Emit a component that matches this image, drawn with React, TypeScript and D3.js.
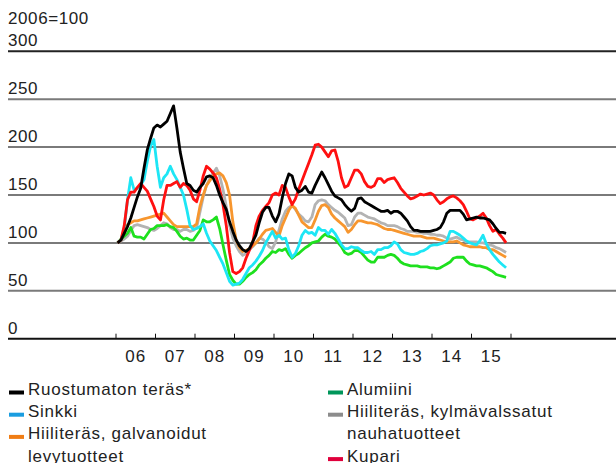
import React from "react";
import * as d3 from "d3";

const W = 616;
const H = 463;

const yTicks = [0, 50, 100, 150, 200, 250, 300];
const yearLabels = ["06", "07", "08", "09", "10", "11", "12", "13", "14", "15"];
const unitLabel = "2006=100";

// Monthly index values, Jan 2006 – Nov 2015
const stainless = [
  100, 103, 110, 117, 126, 137, 148, 157, 178, 197, 209, 220, 223, 221, 224, 227, 235, 243, 220, 195,
  178, 162, 160, 155, 153, 158, 162, 169, 170, 168, 160, 150, 142, 135, 122, 112, 103, 97, 93, 91,
  94, 101, 108, 121, 132, 137, 137, 128, 122, 130, 147, 162, 172, 170, 158, 153, 155, 159, 153, 152,
  160, 167, 174, 168, 161, 154, 149, 147, 145, 140, 136, 133, 136, 146, 147, 143, 141, 139, 137, 135,
  133, 133, 134, 131, 133, 133, 131, 127, 123, 117, 113, 113, 112, 112, 112, 112, 113, 114, 116, 122,
  131, 134, 134, 134, 134, 130, 124, 125, 126, 127, 126, 126, 125, 124, 120, 115, 111, 111, 110,
];
const zinc = [
  100, 103, 115, 145, 168, 155, 157, 160, 166, 185, 201, 208, 180, 158, 168, 172, 180, 172, 166, 158,
  150, 135, 118, 114, 115, 117, 120, 110, 102, 97, 92, 85, 78, 69, 60, 56, 57, 58, 62, 68,
  74, 77, 81, 86, 92, 100, 106, 112, 105, 108, 104, 105, 93, 85, 89, 97, 108, 113, 110, 111,
  108, 116, 113, 113, 109, 114, 110, 104, 98, 94, 94, 96, 95, 95, 92, 90, 90, 91, 88, 93,
  93, 95, 95, 97, 101, 99, 93, 90, 89, 88, 88, 89, 91, 92, 94, 97, 98, 98, 99, 100,
  102, 112, 112, 110, 108, 105, 102, 100, 99, 98, 102, 108, 99, 93, 88, 84, 80, 77, 74,
];
const galvanized = [
  100, 103, 110, 119, 121, 123, 123, 124, 125, 126, 127, 128, 129, 130, 131, 127, 123, 119, 117, 117,
  117, 117, 117, 117, 120, 138, 150, 160, 165, 170, 172, 173, 170, 163, 150, 122, 103, 95, 91, 92,
  94, 97, 100, 104, 109, 113, 114, 115, 111, 107, 118, 126, 134, 139, 136, 129, 122, 119, 116, 116,
  124, 133, 139, 140, 137, 130, 126, 123, 120, 117, 111, 114, 119, 123, 123, 122, 121, 121, 120, 119,
  117, 115, 114, 114, 113, 112, 111, 110, 109, 108, 107, 107, 107, 106, 105, 105, 105, 104, 103, 102,
  101, 101, 101, 102, 100, 98, 97, 96, 96, 96, 96, 95, 95, 93, 93, 91, 89, 87, 85,
];
const aluminium = [
  100, 104, 107, 110, 116, 107, 106, 106, 104, 109, 114, 115, 118, 118, 118, 119, 117, 116, 112, 107,
  104, 105, 103, 103, 108, 113, 124, 122, 122, 124, 127, 115, 98, 82, 67, 61, 57, 57, 60, 64,
  67, 69, 72, 77, 80, 84, 87, 91, 90, 93, 92, 94, 88, 84, 87, 89, 92, 95, 97, 100,
  101, 102, 106, 109, 107, 106, 104, 100, 96, 90, 88, 89, 92, 92, 90, 86, 82, 80, 80, 85,
  85, 85, 87, 88, 87, 84, 80, 78, 77, 76, 76, 76, 75, 75, 75, 74, 74, 73, 74, 76,
  78, 80, 84, 85, 85, 85, 81, 78, 77, 76, 76, 75, 74, 72, 70, 67, 66, 65, 64,
];
const coldRolled = [
  100, 102, 104, 107, 113, 118, 119, 118, 117, 116, 114, 113, 115, 118, 121, 120, 116, 114, 114, 112,
  114, 114, 112, 113, 116, 132, 148, 160, 167, 173, 178, 170, 156, 138, 118, 105, 97, 91, 87, 89,
  93, 96, 100, 105, 104, 101, 96, 94, 101, 113, 125, 133, 137, 139, 135, 130, 127, 123, 122, 127,
  140, 144, 145, 144, 140, 137, 134, 132, 129, 126, 118, 119, 127, 131, 131, 129, 127, 126, 125, 123,
  121, 120, 118, 118, 118, 117, 115, 114, 112, 112, 112, 111, 111, 110, 110, 109, 109, 108, 108, 107,
  105, 104, 105, 106, 104, 103, 101, 101, 101, 101, 100, 100, 99, 98, 97, 95, 94, 92, 90,
];
const copper = [
  100, 103, 118, 145, 153, 153, 158, 162, 158, 154, 146, 138, 128, 124, 145, 160, 160, 162, 164, 158,
  162, 160, 155, 146, 143, 155, 170, 180, 177, 173, 168, 156, 140, 118, 90, 70, 68, 70, 74, 84,
  92, 100, 118, 128, 134, 138, 142, 150, 152, 150, 160, 158, 148, 140, 146, 156, 165, 174, 183, 192,
  202, 203, 200, 195, 190, 196, 197, 185, 168, 158, 160, 168, 176, 176, 172, 164, 159, 158, 160, 167,
  167, 163, 166, 167, 168, 163, 157, 153, 149, 146, 147, 149, 151, 150, 151, 152, 150, 145, 141, 143,
  146, 148, 149, 147, 144, 140, 133, 125, 124, 126, 128, 131, 126, 118, 112, 114, 109, 105, 100,
];

const seriesNames = [
  "Ruostumaton teräs*",
  "Sinkki",
  "Hiiliteräs, galvanoidut levytuotteet",
  "Alumiini",
  "Hiiliteräs, kylmävalssatut nauhatuotteet",
  "Kupari",
];

type S = { name: string; values: number[]; line: string; swatch: string; legend: string[] };
const series: S[] = [
  { name: seriesNames[4], values: coldRolled, line: "#b3b3b3", swatch: "#8c8c8c", legend: ["Hiiliteräs, kylmävalssatut", "nauhatuotteet"] },
  { name: seriesNames[2], values: galvanized, line: "#f7962e", swatch: "#f07d14", legend: ["Hiiliteräs, galvanoidut", "levytuotteet"] },
  { name: seriesNames[3], values: aluminium, line: "#1ee01e", swatch: "#00965a", legend: ["Alumiini"] },
  { name: seriesNames[1], values: zinc, line: "#1de6f5", swatch: "#1a9de0", legend: ["Sinkki"] },
  { name: seriesNames[5], values: copper, line: "#ff1010", swatch: "#e0003c", legend: ["Kupari"] },
  { name: seriesNames[0], values: stainless, line: "#000000", swatch: "#000000", legend: ["Ruostumaton teräs*"] },
];

const FONT = "'Liberation Sans', Arial, sans-serif";

export default function App() {
  const y = d3.scaleLinear().domain([0, 300]).range([338.7, 51.3]);
  const x = d3.scaleLinear().domain([0, 120]).range([116, 511]);
  const line = d3
    .line<number>()
    .x((_, i) => x(i + 0.5))
    .y((d) => y(d));

  const yearTicks = d3.range(0, 121, 12);

  const legendLeft = [series[5], series[3], series[1]];
  const legendRight = [series[2], series[0], series[4]];
  const rowY = (r: number) => 395 + r * 22.2;

  const renderLegend = (items: S[], x0: number) => {
    let row = 0;
    return items.map((s) => {
      const r0 = row;
      row += s.legend.length;
      return (
        <g key={s.name}>
          <rect x={x0} y={rowY(r0) - 4.5} width={15} height={4} fill={s.swatch} />
          {s.legend.map((t, k) => (
            <text
              key={k}
              x={x0 + 19}
              y={rowY(r0 + k)}
              fontSize={17}
              letterSpacing={0.75}
              fill="#222"
              fontFamily={FONT}
            >
              {t}
            </text>
          ))}
        </g>
      );
    });
  };

  return (
    <svg
      width={W}
      height={H}
      style={{ position: "absolute", left: 0, top: 0, background: "#fff" }}
    >
      <text x={8} y={24} fontSize={17} letterSpacing={0.6} fill="#222" fontFamily={FONT}>
        {unitLabel}
      </text>
      {yTicks.map((t) => (
        <g key={t}>
          {t !== 0 && (
            <line
              x1={8}
              x2={616}
              y1={y(t)}
              y2={y(t)}
              stroke={t === 300 ? "#222" : "#7a7a7a"}
              strokeWidth={2}
            />
          )}
          <text x={8} y={y(t) - 5} fontSize={17} letterSpacing={0.6} fill="#222" fontFamily={FONT}>
            {t}
          </text>
        </g>
      ))}
      {series.map((s) => (
        <path
          key={s.name}
          d={line(s.values) || ""}
          fill="none"
          stroke={s.line}
          strokeWidth={2.8}
          strokeLinejoin="round"
        />
      ))}
      <line x1={8} x2={616} y1={y(0)} y2={y(0)} stroke="#111" strokeWidth={2} />
      {yearTicks.map((m) => (
        <line key={m} x1={x(m)} x2={x(m)} y1={y(0)} y2={y(0) - 5} stroke="#111" strokeWidth={1} />
      ))}
      {yearLabels.map((l, i) => (
        <text
          key={l}
          x={x(i * 12 + 6)}
          y={362}
          fontSize={17}
          letterSpacing={1}
          textAnchor="middle"
          fill="#222"
          fontFamily={FONT}
        >
          {l}
        </text>
      ))}
      {renderLegend(legendLeft, 9)}
      {renderLegend(legendRight, 328)}
    </svg>
  );
}
